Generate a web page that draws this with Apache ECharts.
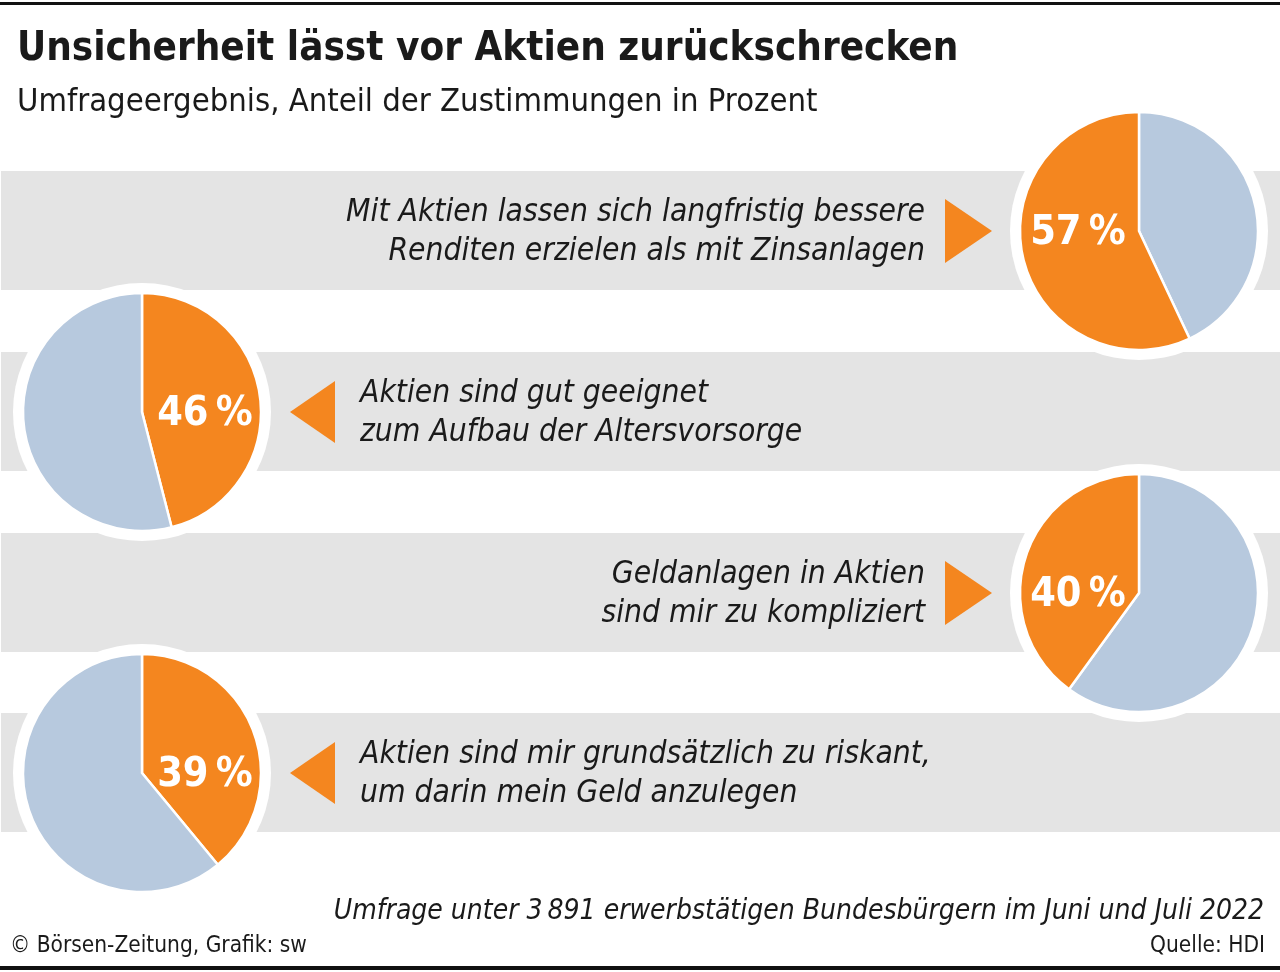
<!DOCTYPE html>
<html><head><meta charset="utf-8">
<script src="https://cdn.jsdelivr.net/npm/echarts@6/dist/echarts.min.js"></script>
<style>html,body{margin:0;padding:0;background:#fff}#c{width:1280px;height:972px}</style>
</head><body><div id="c"></div>
<script>
const titleText = 'Unsicherheit lässt vor Aktien zurückschrecken';
const subtitleText = 'Umfrageergebnis, Anteil der Zustimmungen in Prozent';
const statements = [
  'Mit Aktien lassen sich langfristig bessere\nRenditen erzielen als mit Zinsanlagen',
  'Aktien sind gut geeignet\nzum Aufbau der Altersvorsorge',
  'Geldanlagen in Aktien\nsind mir zu kompliziert',
  'Aktien sind mir grundsätzlich zu riskant,\num darin mein Geld anzulegen'
];
const agree = [57, 46, 40, 39];
const noteText = 'Umfrage unter 3\u2009891 erwerbstätigen Bundesbürgern im Juni und Juli 2022';
const creditText = '© Börsen-Zeitung, Grafik: sw';
const sourceText = 'Quelle: HDI';

const ORANGE = '#f4861f', BLUE = '#b7c9de', BAND = '#e4e4e4';
const FONT = "'Liberation Sans Narrow', 'DejaVu Sans Condensed', 'Noto Sans', sans-serif";

const chart = echarts.init(document.getElementById('c'), null, {renderer: 'canvas'});
const rowY = [231, 412, 593, 773];
const rightSide = [true, false, true, false];

const series = [];
const graphic = [];
graphic.push({type: 'rect', shape: {x: 0, y: 2, width: 1280, height: 3}, style: {fill: '#111'}, z: 0});
graphic.push({type: 'rect', shape: {x: 0, y: 966, width: 1280, height: 4}, style: {fill: '#111'}, z: 0});
graphic.push({type: 'text', x: 17, y: 50, style: {text: titleText, font: "bold 40px " + FONT, fill: '#1a1a1a', verticalAlign: 'middle'}, z: 1});
graphic.push({type: 'text', x: 17, y: 103, style: {text: subtitleText, font: "32.5px " + FONT, fill: '#1a1a1a', verticalAlign: 'middle'}, z: 1});

agree.forEach((v, i) => {
  const cy = rowY[i];
  const right = rightSide[i];
  const cx = right ? 1139 : 142;
  graphic.push({type: 'rect', shape: {x: 1, y: cy - 60, width: 1279, height: 119}, style: {fill: BAND}, z: 0});
  graphic.push({type: 'circle', shape: {cx: cx, cy: cy, r: 129}, style: {fill: '#fff'}, z: 1});
  if (right) {
    graphic.push({type: 'polygon', shape: {points: [[945, cy - 32], [945, cy + 32], [992, cy]]}, style: {fill: ORANGE}, z: 1});
    graphic.push({type: 'text', x: 925, y: cy + 1, style: {text: statements[i], font: "italic 31.5px " + FONT, fill: '#1a1a1a', align: 'right', verticalAlign: 'middle', lineHeight: 39}, z: 1});
  } else {
    graphic.push({type: 'polygon', shape: {points: [[335, cy - 31], [335, cy + 31], [290, cy]]}, style: {fill: ORANGE}, z: 1});
    graphic.push({type: 'text', x: 360, y: cy + 1, style: {text: statements[i], font: "italic 31.5px " + FONT, fill: '#1a1a1a', align: 'left', verticalAlign: 'middle', lineHeight: 39}, z: 1});
  }
  const orange = {value: v, name: 'Zustimmung', itemStyle: {color: ORANGE}};
  const blue = {value: 100 - v, name: 'Rest', itemStyle: {color: BLUE}};
  series.push({
    type: 'pie', center: [cx, cy], radius: [0, 119], startAngle: 90, clockwise: true,
    silent: true, z: 5, animation: false,
    label: {show: false}, labelLine: {show: false},
    itemStyle: {borderColor: '#fff', borderWidth: 2.5},
    data: right ? [blue, orange] : [orange, blue]
  });
  graphic.push({type: 'text', x: right ? cx - 61 : cx + 63, y: cy + 2, style: {text: v + '\u2009%', font: "bold 41px " + FONT, fill: '#fff', align: 'center', verticalAlign: 'middle'}, z: 10});
});

graphic.push({type: 'text', x: 1264, y: 912, style: {text: noteText, font: "italic 28px " + FONT, fill: '#1a1a1a', align: 'right', verticalAlign: 'middle'}, z: 1});
graphic.push({type: 'text', x: 10, y: 946, style: {text: creditText, font: "22.5px " + FONT, fill: '#1a1a1a', verticalAlign: 'middle'}, z: 1});
graphic.push({type: 'text', x: 1265, y: 946, style: {text: sourceText, font: "22.5px " + FONT, fill: '#1a1a1a', align: 'right', verticalAlign: 'middle'}, z: 1});

chart.setOption({animation: false, backgroundColor: '#fff', graphic: graphic, series: series});
</script></body></html>
